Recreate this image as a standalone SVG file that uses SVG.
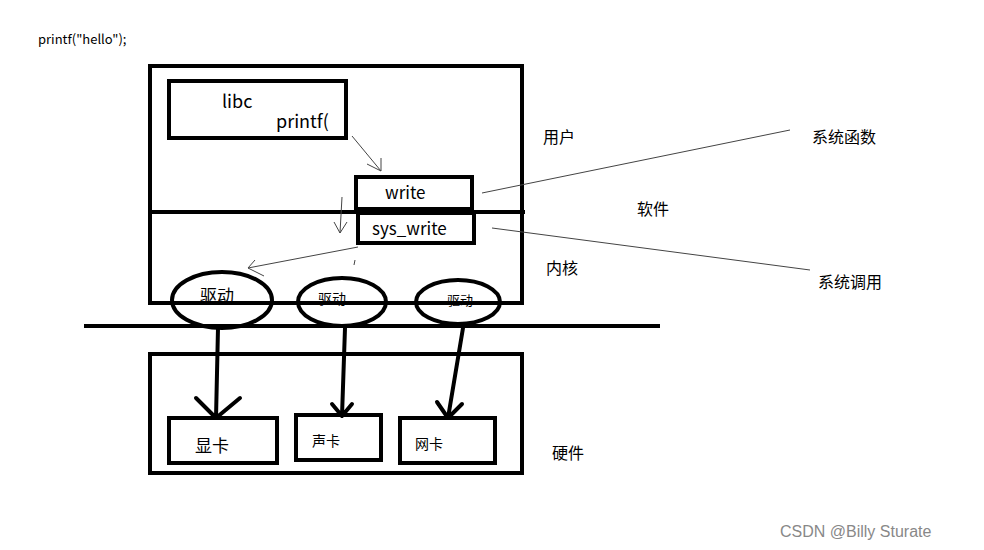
<svg xmlns="http://www.w3.org/2000/svg" width="984" height="550" viewBox="0 0 984 550">
<style>
text{font-family:"Microsoft YaHei","Noto Sans CJK SC",sans-serif;fill:#000}
.b{fill:none;stroke:#000;stroke-width:4}
.t{fill:none;stroke:#444;stroke-width:1}
.k{fill:none;stroke:#000;stroke-width:4;stroke-linecap:round}
</style>
<rect width="984" height="550" fill="#fff"/>
<text x="38" y="44" font-size="13">printf("hello");</text>
<g id="userkernel"><rect class="b" x="150" y="66" width="372" height="237"/><line class="b" x1="150" y1="212" x2="525" y2="212"/></g>
<g id="libc"><rect class="b" x="169" y="81" width="177" height="57"/><text x="222" y="108" font-size="18">libc</text><text x="276" y="128" font-size="18">printf(</text></g>
<g id="write"><rect class="b" x="356" y="177" width="116" height="32"/><text x="385" y="199" font-size="17">write</text></g>
<g id="sys_write"><rect class="b" x="358" y="213" width="116" height="30"/><text x="372" y="235" font-size="17">sys_write</text></g>
<g id="drv1"><ellipse class="b" cx="222" cy="300" rx="50" ry="28"/><text x="200" y="302" font-size="17">驱动</text></g>
<g id="drv2"><ellipse class="b" cx="342" cy="302" rx="44" ry="24"/><text x="318" y="304" font-size="14">驱动</text></g>
<g id="drv3"><ellipse class="b" cx="458" cy="302" rx="42" ry="22"/><text x="447" y="305" font-size="13">驱动</text></g>
<line class="b" x1="84" y1="326" x2="660" y2="326"/>
<g id="hw"><rect class="b" x="150" y="354" width="372" height="119"/></g>
<g id="gpu"><rect class="b" x="169" y="418" width="108" height="45"/><text x="195" y="452" font-size="17">显卡</text></g>
<g id="sound"><rect class="b" x="296" y="415" width="85" height="45"/><text x="312" y="446" font-size="14">声卡</text></g>
<g id="net"><rect class="b" x="400" y="418" width="95" height="45"/><text x="415" y="449" font-size="14">网卡</text></g>
<text x="543" y="143" font-size="16">用户</text>
<text x="637" y="215" font-size="16">软件</text>
<text x="546" y="274" font-size="16">内核</text>
<text x="812" y="143" font-size="16">系统函数</text>
<text x="818" y="288" font-size="16">系统调用</text>
<text x="552" y="459" font-size="16">硬件</text>
<g id="connectors">
<path class="t" d="M352 136 L381 171 M367 164 L381 171 M381 158 L381 171"/>
<path class="t" d="M342 197 L340 233 M334 222 L340 233 M347 222 L340 233"/>
<path class="t" d="M358 247 L248 268 M255 260 L248 268 M264 276 L248 268"/>
<path class="t" d="M355 260 L354 265"/>
<path class="t" d="M482 193 L790 130"/>
<path class="t" d="M492 228 L810 270"/>
<path class="k" d="M218 328 L216 418 M196 398 L216 418 M240 398 L216 418"/>
<path class="k" d="M345 328 L342 416 M332 404 L342 416 M352 404 L342 416"/>
<path class="k" d="M463 328 L448 418 M437 402 L448 418 M462 404 L448 418"/>
</g>
<text x="780" y="537" font-size="16" style="fill:#888;font-family:'Liberation Sans',sans-serif">CSDN @Billy Sturate</text>
</svg>
